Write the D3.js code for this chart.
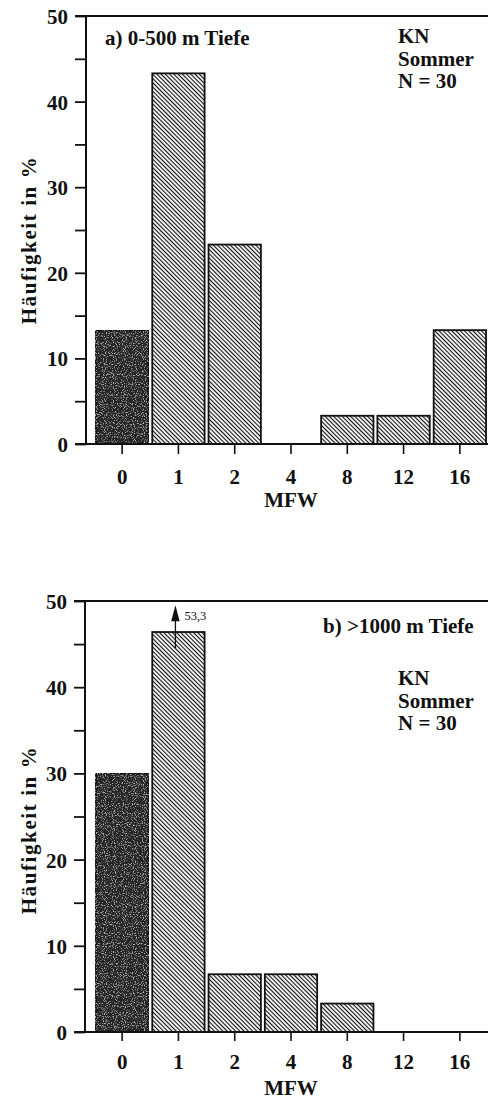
<!DOCTYPE html>
<html>
<head>
<meta charset="utf-8">
<script src="https://cdn.jsdelivr.net/npm/d3@7/dist/d3.min.js"></script>
<style>
  html, body { margin: 0; padding: 0; background: #fff; }
  svg { display: block; }
  text { font-family: "Liberation Serif", "Times New Roman", Times, serif; fill: #111; }
</style>
</head>
<body>
<svg id="chart" width="488" height="1101"></svg>
<script>
// MFW classes on the x axis
const categories = ["0", "1", "2", "4", "8", "12", "16"];
// Frequencies in % (N = 30), panel a: 0-500 m depth
const valuesA = [13.3, 43.3, 23.3, 0, 3.3, 3.3, 13.3];
// Frequencies in % (N = 30), panel b: >1000 m depth
const valuesB = [30.0, 53.3, 6.7, 6.7, 3.3, 0, 0];
// y axis ticks
const yMajorTicks = [0, 10, 20, 30, 40, 50];
const yMinorTicks = [5, 15, 25, 35, 45];
const yMax = 50;
// bars taller than this are cut and marked with an arrow
const breakValue = 46.4;
const infoLines = ["KN", "Sommer", "N = 30"];

const FS = 21;
const svg = d3.select("#chart");
const defs = svg.append("defs");

// diagonal hatching for classes > 0
defs.append("pattern")
  .attr("id", "hatch")
  .attr("patternUnits", "userSpaceOnUse")
  .attr("width", 3).attr("height", 3)
  .attr("patternTransform", "rotate(45)")
  .call(p => {
    p.append("rect").attr("width", 3).attr("height", 3).attr("fill", "#fff");
    p.append("line").attr("x1", -1).attr("x2", 4).attr("y1", 1.5).attr("y2", 1.5)
      .attr("stroke", "#111").attr("stroke-width", 1.15);
  });

// grainy dark tone for class 0
const grain = defs.append("filter").attr("id", "grain")
  .attr("x", 0).attr("y", 0).attr("width", 1).attr("height", 1);
grain.append("feTurbulence").attr("type", "fractalNoise")
  .attr("baseFrequency", 0.9).attr("numOctaves", 1).attr("seed", 7).attr("result", "noise");
grain.append("feColorMatrix").attr("in", "noise").attr("type", "matrix")
  .attr("values", "0 0 0 0 0.7  0 0 0 0 0.7  0 0 0 0 0.7  3.2 0 0 0 -1.72")
  .attr("result", "speck");
grain.append("feComposite").attr("in", "speck").attr("in2", "SourceGraphic")
  .attr("operator", "in").attr("result", "speckIn");
const merge = grain.append("feMerge");
merge.append("feMergeNode").attr("in", "SourceGraphic");
merge.append("feMergeNode").attr("in", "speckIn");

const x = d3.scaleBand()
  .domain(categories)
  .range([94, 488])
  .paddingInner(0.07)
  .paddingOuter(0.035);

function drawPanel(cfg) {
  const g = svg.append("g");
  const y = d3.scaleLinear().domain([0, yMax]).range([cfg.bottom, cfg.top]);
  const ax = cfg.axisX;

  // bars
  const data = categories.map((c, i) => ({ c, v: cfg.values[i] }));
  g.selectAll("rect.bar")
    .data(data.filter(d => d.v > 0))
    .join("rect")
    .attr("class", "bar")
    .attr("x", d => x(d.c))
    .attr("width", x.bandwidth())
    .attr("y", d => y(Math.min(d.v, breakValue)))
    .attr("height", d => y(0) - y(Math.min(d.v, breakValue)))
    .attr("fill", d => d.c === "0" ? "#262626" : "url(#hatch)")
    .attr("filter", d => d.c === "0" ? "url(#grain)" : null)
    .attr("stroke", "#111")
    .attr("stroke-width", 1.8);

  // overflow arrow with the true value
  data.filter(d => d.v > yMax).forEach(d => {
    const cx = x(d.c) + x.bandwidth() / 2 - 3;
    const yTop = y(breakValue);
    const yTip = y(49.5);
    g.append("line")
      .attr("x1", cx).attr("x2", cx)
      .attr("y1", yTop + 16).attr("y2", yTip + 8)
      .attr("stroke", "#111").attr("stroke-width", 1.3);
    g.append("path")
      .attr("d", `M${cx},${yTip} L${cx - 4.2},${yTip + 16} L${cx + 4.2},${yTip + 16} Z`)
      .attr("fill", "#111");
    g.append("text")
      .attr("x", cx + 9).attr("y", yTip + 15)
      .attr("font-size", 12.5)
      .text(d3.format(".1f")(d.v).replace(".", ","));
  });

  // y axis: ticks and labels
  const yAxis = d3.axisLeft(y)
    .tickValues(yMajorTicks.concat(yMinorTicks))
    .tickSize(11)
    .tickSizeOuter(0)
    .tickPadding(7)
    .tickFormat(v => yMajorTicks.includes(v) ? d3.format("d")(v) : "");
  g.append("g")
    .attr("transform", `translate(${ax},0)`)
    .call(yAxis)
    .call(s => s.select(".domain").remove())
    .call(s => s.selectAll("line").attr("stroke", "#111").attr("stroke-width", 1.8))
    .call(s => s.selectAll("text")
      .attr("font-weight", "bold")
      .attr("font-size", FS).attr("fill", "#111").attr("dy", "0.36em"));

  // frame: y axis line, top line, base line
  g.append("line").attr("x1", ax).attr("x2", ax).attr("y1", y(0)).attr("y2", y(yMax))
    .attr("stroke", "#111").attr("stroke-width", 2);
  g.append("line").attr("x1", ax - 11).attr("x2", 488).attr("y1", y(yMax)).attr("y2", y(yMax))
    .attr("stroke", "#111").attr("stroke-width", 2.2);
  g.append("line").attr("x1", ax - 11).attr("x2", 488).attr("y1", y(0)).attr("y2", y(0))
    .attr("stroke", "#111").attr("stroke-width", 2.2);

  // x axis ticks and labels
  const xAxis = d3.axisBottom(x).tickSize(cfg.xTick).tickSizeOuter(0).tickPadding(cfg.xPad);
  g.append("g")
    .attr("transform", `translate(0,${y(0)})`)
    .call(xAxis)
    .call(s => s.select(".domain").remove())
    .call(s => s.selectAll("line").attr("stroke", "#111").attr("stroke-width", 1.6))
    .call(s => s.selectAll("text")
      .attr("font-weight", "bold")
      .attr("font-size", FS).attr("fill", "#111"));

  // axis titles
  g.append("text")
    .attr("x", x("4") + x.bandwidth() / 2)
    .attr("y", cfg.mfwY)
    .attr("text-anchor", "middle")
    .attr("font-weight", "bold").attr("font-size", FS)
    .text("MFW");
  g.append("text")
    .attr("transform", `translate(36,${cfg.yTitleY}) rotate(-90)`)
    .attr("text-anchor", "middle")
    .attr("font-weight", "bold").attr("font-size", FS)
    .attr("letter-spacing", 1.6)
    .text("Häufigkeit in %");

  // panel title and info block
  g.append("text")
    .attr("x", cfg.titleX).attr("y", cfg.titleY)
    .attr("font-weight", "bold").attr("font-size", FS)
    .text(cfg.title);
  g.selectAll("text.info")
    .data(infoLines)
    .join("text")
    .attr("class", "info")
    .attr("x", 398)
    .attr("y", (d, i) => cfg.infoY + i * 22.5)
    .attr("font-weight", "bold").attr("font-size", FS)
    .text(d => d);
}

drawPanel({
  values: valuesA, top: 16, bottom: 444, axisX: 86,
  xTick: 10, xPad: 15, mfwY: 507, yTitleY: 240,
  title: "a) 0-500 m Tiefe", titleX: 105, titleY: 45, infoY: 43
});
drawPanel({
  values: valuesB, top: 601, bottom: 1032, axisX: 85,
  xTick: 9, xPad: 13, mfwY: 1095, yTitleY: 830,
  title: "b) >1000 m Tiefe", titleX: 323, titleY: 633, infoY: 685
});
</script>
</body>
</html>
